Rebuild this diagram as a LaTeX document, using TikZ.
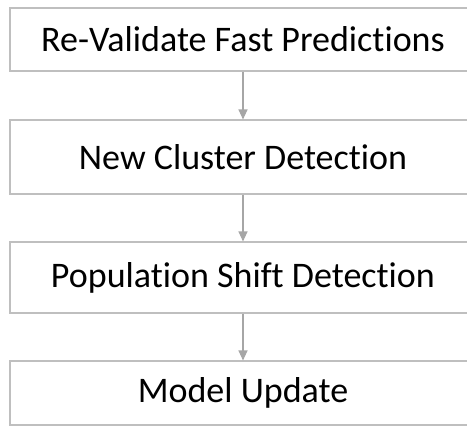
\documentclass[tikz,border=0pt]{standalone}
\usepackage{fontspec}
\setmainfont{Carlito}[Ligatures=NoCommon]
\usetikzlibrary{arrows.meta, positioning}
\usepackage{xcolor}
\definecolor{boxgrey}{HTML}{BFBFBF}
\definecolor{arrowgrey}{HTML}{A6A6A6}
\definecolor{textblack}{HTML}{000000}
\tikzset{
  stagebox/.style={rectangle, draw=boxgrey, fill=white, line width=1.1pt,
                   minimum width=466pt, inner sep=0pt, align=center,
                   text=textblack, font=\fontsize{36}{42}\selectfont},
  flowlink/.style={-{Triangle[length=10pt,width=9pt]}, line width=1.1pt, draw=arrowgrey},
}
\begin{document}
\begin{tikzpicture}[x=1pt, y=1pt]
  \useasboundingbox (0, 0) rectangle (467, -426);

  % --- Stages ---
  \node[stagebox, minimum height=63pt] (reval)   at (243, -39.5) {Re-Validate Fast Predictions};
  \node[stagebox, minimum height=74pt] (cluster) at (243, -157)  {New Cluster Detection};
  \node[stagebox, minimum height=71pt] (shift)   at (243, -277.5) {Population Shift Detection};
  \node[stagebox, minimum height=64pt] (update)  at (243, -393)  {Model Update};

  % --- Links ---
  \draw[flowlink] (reval)   -- (cluster);
  \draw[flowlink] (cluster) -- (shift);
  \draw[flowlink] (shift)   -- (update);

\end{tikzpicture}
\end{document}
